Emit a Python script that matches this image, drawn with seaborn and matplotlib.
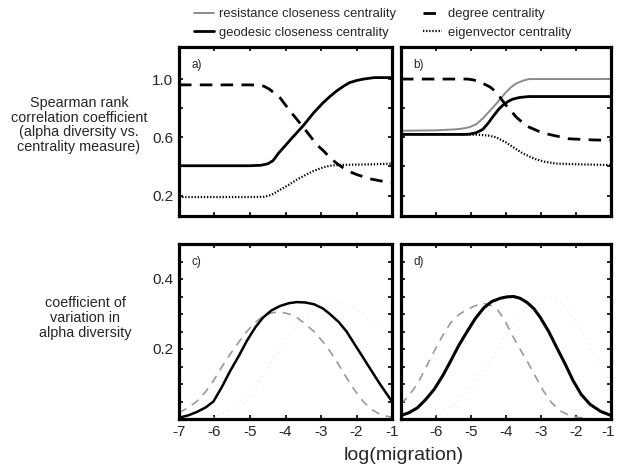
import matplotlib
matplotlib.use("Agg")
import matplotlib.pyplot as plt
import matplotlib.transforms as mtrans
import seaborn as sns

# ---------------- data ----------------
# panel a: Spearman correlation vs log(migration)
a_geo_x = [-7, -6, -5, -4.7, -4.5, -4.35, -4.2, -4.0, -3.8, -3.5, -3.2, -2.95, -2.75, -2.55, -2.37, -2.2, -2.0, -1.8, -1.5, -1]
a_geo_y = [0.405, 0.405, 0.405, 0.408, 0.418, 0.44, 0.49, 0.545, 0.60, 0.68, 0.77, 0.835, 0.88, 0.92, 0.95, 0.975, 0.99, 1.0, 1.01, 1.01]
a_deg_x = [-7, -6, -5, -4.75, -4.6, -4.45, -4.3, -4.15, -3.87, -3.5, -3.12, -2.9, -2.75, -2.55, -2.37, -2.2, -2.0, -1.62, -1.3, -1]
a_deg_y = [0.96, 0.96, 0.96, 0.958, 0.95, 0.93, 0.90, 0.87, 0.78, 0.67, 0.55, 0.50, 0.46, 0.42, 0.39, 0.365, 0.345, 0.315, 0.30, 0.29]
a_eig_x = [-7, -6, -5, -4.6, -4.4, -4.15, -3.9, -3.68, -3.45, -3.2, -2.95, -2.75, -2.5, -2.2, -1.5, -1]
a_eig_y = [0.19, 0.19, 0.19, 0.192, 0.205, 0.24, 0.275, 0.31, 0.34, 0.37, 0.393, 0.405, 0.41, 0.412, 0.415, 0.42]

# panel b
b_res_x = [-7, -6, -5.42, -5.2, -5.04, -4.85, -4.66, -4.45, -4.28, -4.0, -3.85, -3.71, -3.5, -3.34, -2.5, -1]
b_res_y = [0.645, 0.648, 0.655, 0.662, 0.67, 0.69, 0.73, 0.785, 0.83, 0.91, 0.945, 0.97, 0.99, 1.0, 1.0, 1.0]
b_geo_x = [-7, -6, -5.2, -5.04, -4.85, -4.66, -4.5, -4.38, -4.2, -4.09, -3.95, -3.81, -3.6, -3.34, -2.5, -1]
b_geo_y = [0.62, 0.62, 0.62, 0.622, 0.632, 0.655, 0.70, 0.74, 0.795, 0.82, 0.845, 0.862, 0.874, 0.88, 0.88, 0.88]
b_deg_x = [-7, -6, -5.1, -4.95, -4.8, -4.66, -4.45, -4.28, -4.0, -3.71, -3.5, -3.34, -3.05, -2.77, -2.2, -1.5, -1]
b_deg_y = [1.0, 1.0, 1.0, 0.995, 0.985, 0.97, 0.945, 0.91, 0.82, 0.74, 0.695, 0.67, 0.64, 0.62, 0.59, 0.582, 0.58]
b_eig_x = [-7, -6, -4.8, -4.5, -4.28, -4.0, -3.75, -3.52, -3.3, -3.15, -2.9, -2.58, -2.0, -1]
b_eig_y = [0.62, 0.62, 0.618, 0.612, 0.60, 0.565, 0.525, 0.49, 0.465, 0.45, 0.433, 0.42, 0.415, 0.41]

# panel c: coefficient of variation
c_geo_x = [-7, -6.75, -6.5, -6.25, -6.03, -5.8, -5.56, -5.3, -5.09, -4.85, -4.63, -4.4, -4.15, -3.9, -3.68, -3.45, -3.2, -2.95, -2.75, -2.5, -2.28, -2.05, -1.81, -1.58, -1.34, -1.15, -1]
c_geo_y = [0.004, 0.01, 0.02, 0.033, 0.05, 0.09, 0.137, 0.183, 0.223, 0.262, 0.29, 0.31, 0.323, 0.331, 0.334, 0.333, 0.328, 0.316, 0.30, 0.277, 0.25, 0.213, 0.175, 0.138, 0.10, 0.072, 0.05]
c_res_x = [-7, -6.75, -6.5, -6.25, -6.03, -5.8, -5.56, -5.3, -5.09, -4.85, -4.63, -4.4, -4.15, -3.9, -3.68, -3.45, -3.2, -2.95, -2.75, -2.5, -2.28, -2.05, -1.81, -1.58, -1.34, -1.15, -1]
c_res_y = [0.018, 0.032, 0.05, 0.078, 0.109, 0.148, 0.185, 0.222, 0.25, 0.276, 0.294, 0.303, 0.306, 0.30, 0.29, 0.272, 0.25, 0.221, 0.194, 0.155, 0.118, 0.082, 0.05, 0.028, 0.013, 0.008, 0.005]
c_eig_x = [-7, -6, -5.1, -4.6, -4.1, -3.6, -3.1, -2.6, -2.1, -1.6, -1]
c_eig_y = [0.0, 0.005, 0.05, 0.13, 0.21, 0.28, 0.32, 0.335, 0.32, 0.28, 0.24]

# panel d
d_geo_x = [-7, -6.77, -6.53, -6.3, -6.05, -5.8, -5.58, -5.35, -5.11, -4.87, -4.63, -4.4, -4.16, -3.97, -3.78, -3.6, -3.40, -3.2, -3.02, -2.78, -2.55, -2.3, -2.08, -1.85, -1.6, -1.3, -1]
d_geo_y = [0.01, 0.018, 0.032, 0.055, 0.085, 0.125, 0.166, 0.21, 0.25, 0.288, 0.318, 0.336, 0.345, 0.349, 0.35, 0.345, 0.333, 0.315, 0.29, 0.25, 0.204, 0.155, 0.109, 0.07, 0.042, 0.022, 0.01]
d_res_x = [-7, -6.77, -6.53, -6.3, -6.05, -5.8, -5.58, -5.35, -5.11, -4.87, -4.63, -4.45, -4.25, -4.05, -3.88, -3.65, -3.40, -3.15, -2.93, -2.7, -2.45, -2.2, -1.98, -1.5, -1]
d_res_y = [0.042, 0.068, 0.10, 0.145, 0.194, 0.24, 0.275, 0.298, 0.313, 0.324, 0.33, 0.325, 0.313, 0.285, 0.25, 0.208, 0.166, 0.12, 0.08, 0.047, 0.023, 0.011, 0.005, 0.0, 0.0]
d_eig_x = [-7, -6, -5.5, -5, -4.5, -4, -3.5, -3, -2.5, -2, -1.5, -1]
d_eig_y = [0.0, 0.01, 0.04, 0.09, 0.16, 0.24, 0.31, 0.35, 0.34, 0.28, 0.19, 0.11]

legend_labels = ["resistance closeness centrality", "geodesic closeness centrality",
                 "degree centrality", "eigenvector centrality"]
x_ticks = [-7, -6, -5, -4, -3, -2, -1]

# ---------------- styling ----------------
sns.set_style("white")
plt.rcParams["font.family"] = ["Liberation Sans", "DejaVu Sans"]

fig = plt.figure(figsize=(6.17, 4.66), dpi=100)
W, H = 617, 466


def box(l, t, r, b):
    return [l / W, 1 - b / H, (r - l) / W, (b - t) / H]


ax_a = fig.add_axes(box(179, 47, 392, 216))
ax_b = fig.add_axes(box(401, 47, 611, 216))
ax_c = fig.add_axes(box(179, 244, 392, 419))
ax_d = fig.add_axes(box(401, 244, 611, 419))

solid_kw = dict(color="black", linewidth=2.0, linestyle="-")
dash_kw = dict(color="black", linewidth=2.0, linestyle=(0, (4.5, 3)))
dot_kw = dict(color="black", linewidth=1.6, linestyle=(0, (0.6, 0.8)))
res_kw = dict(color="#8a8a8a", linewidth=1.4, linestyle="-")

# panel a
sns.lineplot(x=a_geo_x, y=a_geo_y, ax=ax_a, **solid_kw)
sns.lineplot(x=a_deg_x, y=a_deg_y, ax=ax_a, **dash_kw)
sns.lineplot(x=a_eig_x, y=a_eig_y, ax=ax_a, **dot_kw)

# panel b
sns.lineplot(x=b_res_x, y=b_res_y, ax=ax_b, label=legend_labels[0], **res_kw)
sns.lineplot(x=b_geo_x, y=b_geo_y, ax=ax_b, label=legend_labels[1], **solid_kw)
sns.lineplot(x=b_deg_x, y=b_deg_y, ax=ax_b, label=legend_labels[2], **dash_kw)
sns.lineplot(x=b_eig_x, y=b_eig_y, ax=ax_b, label=legend_labels[3], **dot_kw)

# panels c, d
for ax, ex, ey, rx, ry, gx, gy, lw in [
    (ax_c, c_eig_x, c_eig_y, c_res_x, c_res_y, c_geo_x, c_geo_y, 1.8),
    (ax_d, d_eig_x, d_eig_y, d_res_x, d_res_y, d_geo_x, d_geo_y, 2.2),
]:
    sns.lineplot(x=ex, y=ey, ax=ax, color="#ececec", linewidth=1.0, linestyle=(0, (1, 3)))
    sns.lineplot(x=rx, y=ry, ax=ax, color="#999999", linewidth=1.2, linestyle=(0, (5, 4)))
    sns.lineplot(x=gx, y=gy, ax=ax, color="black", linewidth=lw)

for ax in (ax_a, ax_b, ax_c, ax_d):
    if ax.get_legend() is not None:
        ax.get_legend().remove()
    ax.set_xlim(-7, -1)
    ax.set_xticks(x_ticks)
    ax.set_xlabel("")
    ax.set_ylabel("")
    for s in ax.spines.values():
        s.set_linewidth(2.3)
        s.set_color("black")
        s.set_visible(True)
    ax.tick_params(direction="in", length=3, width=1.2, top=True, right=True,
                   bottom=True, left=True, labelsize=11, pad=4, color="black")

for ax in (ax_a, ax_b):
    ax.set_ylim(0.06, 1.22)
    ax.set_yticks([0.2, 0.4, 0.6, 0.8, 1.0])
    ax.set_xticklabels([])
for ax in (ax_c, ax_d):
    ax.set_ylim(0.0, 0.5)
    ax.set_yticks([0.05, 0.1, 0.15, 0.2, 0.25, 0.3, 0.35, 0.4, 0.45])

ax_a.set_yticklabels(["0.2", "", "0.6", "", "1.0"])
ax_b.set_yticklabels([])
ax_c.set_yticklabels(["", "", "", "0.2", "", "", "", "0.4", ""])
ax_d.set_yticklabels([])
ax_c.set_xticklabels([str(t) for t in x_ticks])
ax_d.set_xticklabels([""] + [str(t) for t in x_ticks[1:]])

# keep the last tick label of panel d inside the figure
last = ax_d.get_xticklabels()[-1]
last.set_transform(last.get_transform() + mtrans.ScaledTranslation(-3 / 100, 0, fig.dpi_scale_trans))

for ax, lab in [(ax_a, "a)"), (ax_b, "b)"), (ax_c, "c)"), (ax_d, "d)")]:
    ax.text(0.06, 0.93, lab, transform=ax.transAxes, fontsize=8.5, va="top", ha="left")

# axis titles
fig.text(79 / W, 1 - 125 / H,
         "Spearman rank\ncorrelation coefficient\n(alpha diversity vs.\ncentrality measure)",
         ha="center", va="center", fontsize=10.4, linespacing=1.05)
fig.text(85 / W, 1 - 318 / H, "coefficient of\nvariation in\nalpha diversity",
         ha="center", va="center", fontsize=10.4, linespacing=1.1)
fig.text(404 / W, 1 - 455 / H, "log(migration)", ha="center", va="center", fontsize=14)

handles, labels = ax_b.get_legend_handles_labels()
fig.legend(handles, labels, ncol=2, loc="upper left", bbox_to_anchor=(194 / W, 1 - 8 / H),
           frameon=False, fontsize=9.4, handlelength=1.5, handletextpad=0.45,
           columnspacing=2.0, labelspacing=0.5, borderaxespad=0, borderpad=0)

fig.savefig("out.png", dpi=100)
